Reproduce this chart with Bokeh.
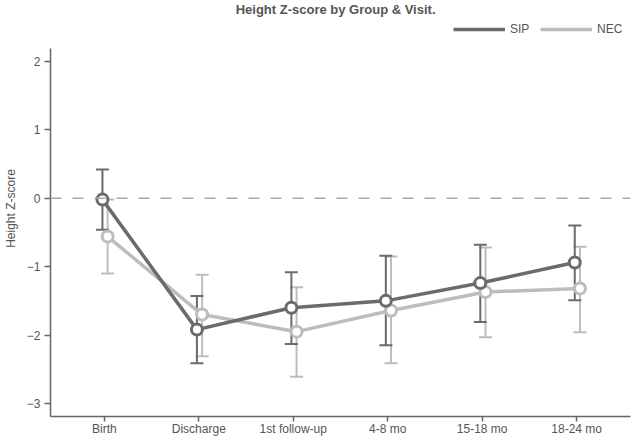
from bokeh.plotting import figure
from bokeh.models import (Range1d, FixedTicker, Span, Whisker, TeeHead, ColumnDataSource,
                          Legend, LegendItem, Label)
from bokeh.embed import file_html
from bokeh.resources import INLINE

title_text = "Height Z-score by Group & Visit."
visits = ["Birth", "Discharge", "1st follow-up", "4-8 mo", "15-18 mo", "18-24 mo"]
sip_mean = [-0.02, -1.92, -1.60, -1.50, -1.24, -0.94]
sip_upper = [0.42, -1.43, -1.08, -0.84, -0.68, -0.40]
sip_lower = [-0.46, -2.41, -2.13, -2.15, -1.81, -1.49]
nec_mean = [-0.56, -1.70, -1.95, -1.64, -1.37, -1.32]
nec_upper = [-0.02, -1.12, -1.30, -0.85, -0.72, -0.71]
nec_lower = [-1.10, -2.31, -2.61, -2.41, -2.03, -1.96]

SIP_C = "#6b6b6b"
NEC_C = "#bdbdbd"
TXT = "#555555"
FONT = "Liberation Sans"

idx = list(range(len(visits)))
sip_x = [i - 0.02 for i in idx]
nec_x = [i + 0.035 for i in idx]

Y_TOP = 2.89
p = figure(width=625, height=435, output_backend="svg", toolbar_location=None, title=None,
           frame_width=580, frame_height=416,
           x_range=Range1d(-0.57, 5.57), y_range=Range1d(-3.19, Y_TOP))
p.min_border_left = 44
p.min_border_right = 1
p.min_border_top = 0
p.min_border_bottom = 19
p.outline_line_color = None
p.xgrid.visible = False
p.ygrid.visible = False
p.background_fill_color = "white"
p.border_fill_color = "white"

p.add_layout(Label(x=2.448, y=Y_TOP - 0.02, text=title_text, text_align="center",
                   text_baseline="top", text_font=FONT, text_font_size="13px",
                   text_font_style="bold", text_color=TXT))

p.add_layout(Span(location=0, dimension="width", line_color="#aaaaaa",
                  line_dash="11 11", line_width=1.5))

src_sip = ColumnDataSource(dict(x=sip_x, y=sip_mean, lo=sip_lower, hi=sip_upper))
src_nec = ColumnDataSource(dict(x=nec_x, y=nec_mean, lo=nec_lower, hi=nec_upper))

for src, col in ((src_nec, NEC_C), (src_sip, SIP_C)):
    w = Whisker(source=src, base="x", upper="hi", lower="lo", line_color=col, line_width=2,
                upper_head=TeeHead(size=13, line_color=col, line_width=2),
                lower_head=TeeHead(size=13, line_color=col, line_width=2))
    p.add_layout(w)

nec_line = p.line("x", "y", source=src_nec, line_color=NEC_C, line_width=3.5)
nec_pts = p.scatter("x", "y", source=src_nec, size=11, fill_color="white",
                    line_color=NEC_C, line_width=3)
sip_line = p.line("x", "y", source=src_sip, line_color=SIP_C, line_width=3.5)
sip_pts = p.scatter("x", "y", source=src_sip, size=11, fill_color="white",
                    line_color=SIP_C, line_width=3)

legend = Legend(items=[LegendItem(label="SIP", renderers=[sip_line]),
                       LegendItem(label="NEC", renderers=[nec_line])],
                orientation="horizontal", location=(403, 380),
                glyph_width=52, glyph_height=12, label_standoff=5, spacing=10,
                label_text_font=FONT, label_text_font_size="12px", label_text_color=TXT,
                border_line_color=None, background_fill_alpha=0,
                padding=0, margin=0)
p.add_layout(legend)

p.xaxis.ticker = FixedTicker(ticks=idx)
p.xaxis.major_label_overrides = {i: v for i, v in zip(idx, visits)}
p.yaxis.ticker = FixedTicker(ticks=[-3, -2, -1, 0, 1, 2])
p.yaxis.bounds = (-3.19, 2.19)
p.yaxis.axis_label = "Height Z-score"
for ax in (p.xaxis[0], p.yaxis[0]):
    ax.axis_line_color = "#666666"
    ax.axis_line_width = 1.5
    ax.major_tick_line_color = "#666666"
    ax.major_tick_line_width = 1.5
    ax.major_tick_out = 6
    ax.major_tick_in = 0
    ax.minor_tick_line_color = None
    ax.major_label_text_font = FONT
    ax.major_label_text_font_size = "12px"
    ax.major_label_text_color = TXT
    ax.axis_label_text_font = FONT
    ax.axis_label_text_font_size = "12px"
    ax.axis_label_text_font_style = "normal"
    ax.axis_label_text_color = TXT
p.xaxis.major_tick_out = 5
p.yaxis.major_label_standoff = 4
p.yaxis.axis_label_standoff = 6
p.xaxis.major_label_standoff = 0

open("out.html", "w").write(file_html(p, INLINE))
